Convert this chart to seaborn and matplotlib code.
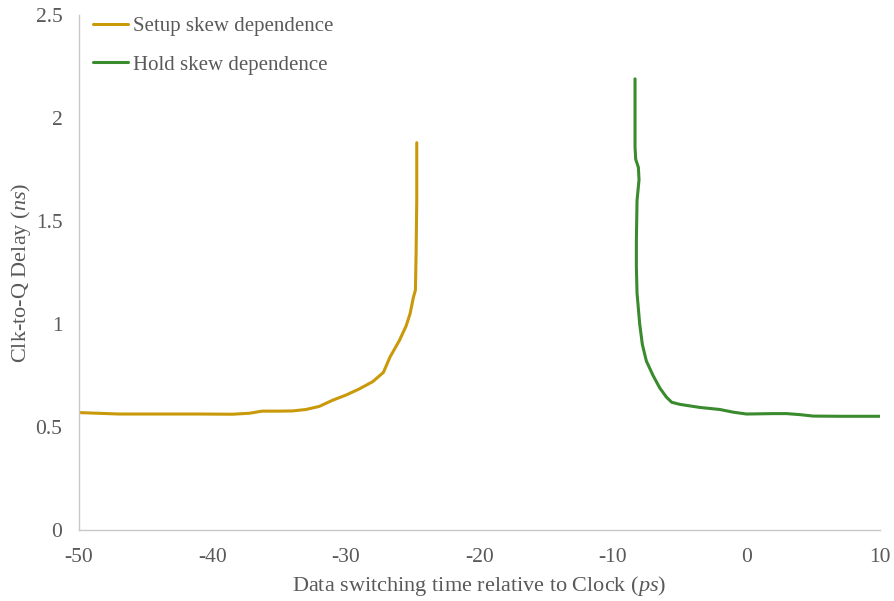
import matplotlib
matplotlib.use("Agg")
import matplotlib.pyplot as plt
import seaborn as sns
import pandas as pd

setup_x = [-50, -47, -44, -41, -38.5, -37.2, -36.3, -35, -34, -33, -32, -31, -30, -29, -28,
           -27.2, -26.7, -26.0, -25.5, -25.2, -24.95, -24.8, -24.75, -24.7, -24.7]
setup_y = [0.570, 0.563, 0.563, 0.563, 0.562, 0.567, 0.577, 0.577, 0.578, 0.585, 0.600, 0.630,
           0.655, 0.685, 0.720, 0.765, 0.840, 0.920, 0.990, 1.050, 1.130, 1.165, 1.340, 1.600, 1.880]

hold_x = [-8.35, -8.35, -8.3, -8.1, -8.05, -8.2, -8.25, -8.25, -8.2, -8.0, -7.8, -7.5, -7.0,
          -6.5, -6.0, -5.6, -5.0, -3.5, -2.0, -1.0, 0, 2, 3, 4, 5, 7, 10]
hold_y = [2.19, 1.86, 1.80, 1.76, 1.70, 1.60, 1.40, 1.28, 1.15, 1.00, 0.90, 0.82, 0.75,
          0.69, 0.645, 0.62, 0.61, 0.595, 0.585, 0.572, 0.563, 0.565, 0.565, 0.56, 0.553, 0.552, 0.552]

labels = ["Setup skew dependence", "Hold skew dependence"]
colors = ["#C9990A", "#3A8A2E"]

df = pd.concat([
    pd.DataFrame({"x": setup_x, "y": setup_y, "series": labels[0]}),
    pd.DataFrame({"x": hold_x, "y": hold_y, "series": labels[1]}),
])

sns.set_style("white")
plt.rcParams["font.family"] = ["Liberation Serif", "DejaVu Serif"]
plt.rcParams["mathtext.fontset"] = "custom"
plt.rcParams["mathtext.it"] = "Liberation Serif:italic"
plt.rcParams["mathtext.rm"] = "Liberation Serif"
plt.rcParams["axes.unicode_minus"] = False

fig = plt.figure(figsize=(8.95, 6.01), dpi=100)
ax = fig.add_axes([79 / 895, 1 - 530 / 601, (880 - 79) / 895, (530 - 15) / 601])

sns.lineplot(data=df, x="x", y="y", hue="series", palette=colors, sort=False,
             estimator=None, linewidth=2.2, ax=ax, hue_order=labels)

ax.set_xlim(-50, 10)
ax.set_ylim(0, 2.5)
ax.set_xticks([-50, -40, -30, -20, -10, 0, 10])
ax.set_xticklabels(["-50", "-40", "-30", "-20", "-10", "0", "10"])
ax.set_yticks([0, 0.5, 1, 1.5, 2, 2.5])
ax.set_yticklabels(["0", "0.5", "1", "1.5", "2", "2.5"])
ax.tick_params(axis="both", length=0, labelsize=15.5, labelcolor="#595959")
ax.tick_params(axis="x", pad=13)
ax.tick_params(axis="y", pad=12)

for s in ["top", "right"]:
    ax.spines[s].set_visible(False)
for s in ["left", "bottom"]:
    ax.spines[s].set_color("#C8C8C8")
    ax.spines[s].set_linewidth(1.0)

ax.set_xlabel("Data switching time relative to Clock ($\\it{ps}$)", fontsize=16, color="#595959", labelpad=5)
ax.set_ylabel("Clk-to-Q Delay ($\\it{ns}$)", fontsize=16, color="#595959", labelpad=2)

leg = ax.legend(loc="upper left", bbox_to_anchor=(0.007, 1.013), frameon=False, fontsize=15,
                handlelength=1.7, handletextpad=0.2, labelspacing=0.9, borderaxespad=0)
for t in leg.get_texts():
    t.set_color("#595959")

fig.savefig("out.png", dpi=100)
